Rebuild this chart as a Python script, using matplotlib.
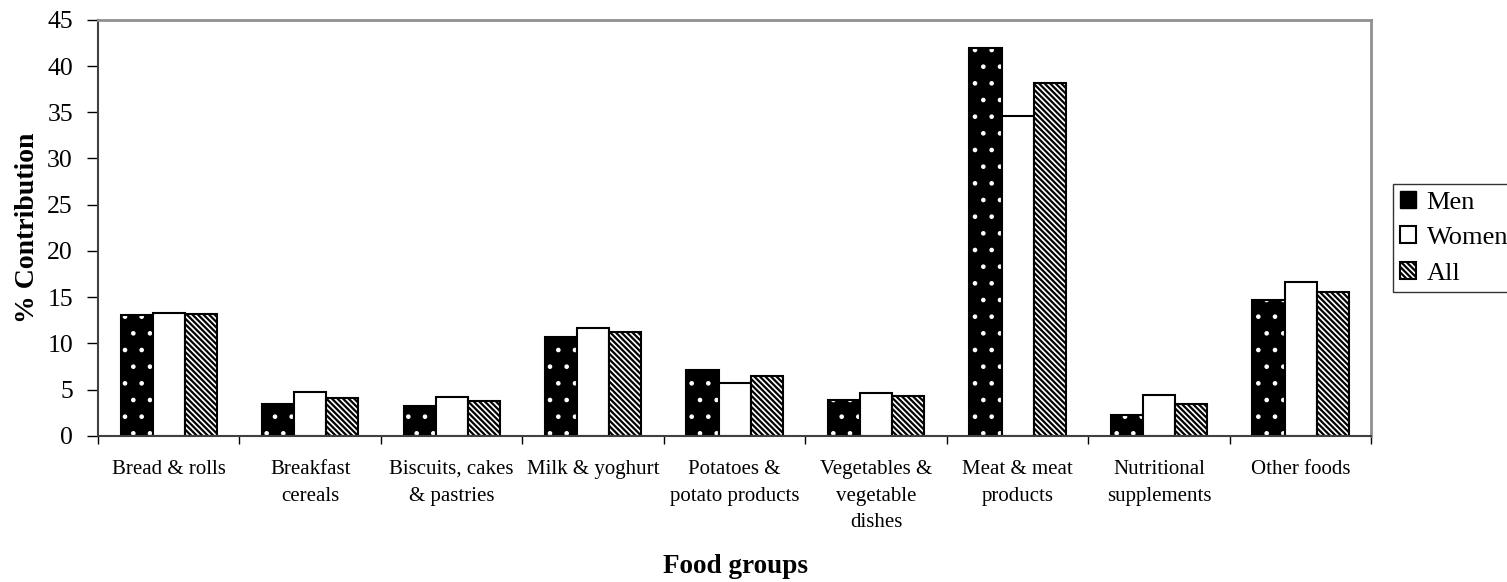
import matplotlib.pyplot as plt
import numpy as np
from matplotlib.patches import Patch

plt.rcParams['font.family'] = ['Liberation Serif', 'DejaVu Serif']
plt.rcParams['hatch.linewidth'] = 1.6

categories = ['Bread & rolls', 'Breakfast\ncereals', 'Biscuits, cakes\n& pastries',
              'Milk & yoghurt', 'Potatoes &\npotato products', 'Vegetables &\nvegetable\ndishes',
              'Meat & meat\nproducts', 'Nutritional\nsupplements', 'Other foods']
men = [13.1, 3.4, 3.2, 10.7, 7.1, 3.9, 41.9, 2.3, 14.7]
women = [13.3, 4.8, 4.2, 11.7, 5.7, 4.6, 34.6, 4.4, 16.6]
all_ = [13.2, 4.1, 3.8, 11.2, 6.5, 4.3, 38.2, 3.4, 15.6]

fig = plt.figure(figsize=(15.07, 5.82), dpi=100)
ax = fig.add_axes([0.065, 0.251, 0.845, 0.715])

x = np.arange(len(categories))
w = 0.227
diag = '\\' * 6

# Men: black bars with small white dots, outline drawn on top
with plt.rc_context({'hatch.linewidth': 0.9}):
    ax.bar(x - w, men, w, color='black', edgecolor='white', hatch='.', linewidth=0)
ax.bar(x - w, men, w, fill=False, edgecolor='black', linewidth=1.5)
ax.bar(x, women, w, color='white', edgecolor='black', linewidth=1.5)
ax.bar(x + w, all_, w, color='white', edgecolor='black', hatch=diag, linewidth=1.5)

ax.set_xlim(-0.5, len(categories) - 0.5)
ax.set_ylim(0, 45)
ax.set_yticks(range(0, 46, 5))
ax.tick_params(axis='y', labelsize=18.5, length=8, width=1, direction='out', pad=10)

# ticks at category boundaries, labels at centres
ax.set_xticks(np.arange(-0.5, len(categories), 1))
ax.set_xticklabels([])
ax.tick_params(axis='x', length=6, width=1, direction='out')
for i, c in enumerate(categories):
    ax.text(i, -2.6, c, ha='center', va='top', fontsize=15, linespacing=1.55)

for s in ['top', 'right']:
    ax.spines[s].set_color('#909090')
    ax.spines[s].set_linewidth(2)
for s in ['left', 'bottom']:
    ax.spines[s].set_color('#404040')
    ax.spines[s].set_linewidth(1.5)

ax.set_ylabel('% Contribution', fontsize=20, fontweight='bold', labelpad=5)
fig.text(0.488, 0.027, 'Food groups', ha='center', va='center', fontsize=19.5, fontweight='bold')

handles = [Patch(facecolor='black', edgecolor='black', linewidth=1),
           Patch(facecolor='white', edgecolor='black', linewidth=1.5),
           Patch(facecolor='white', edgecolor='black', hatch=diag, linewidth=1.5)]
leg = fig.legend(handles, ['Men', 'Women', 'All'], loc='upper left',
                 bbox_to_anchor=(1393 / 1507, 1 - 184 / 582), fontsize=19,
                 frameon=True, fancybox=False, edgecolor='black', borderpad=0.27,
                 handlelength=0.6, handleheight=0.6, handletextpad=0.4, labelspacing=0.48,
                 borderaxespad=0)
leg.get_frame().set_linewidth(1)

fig.savefig('out.png', dpi=100)
